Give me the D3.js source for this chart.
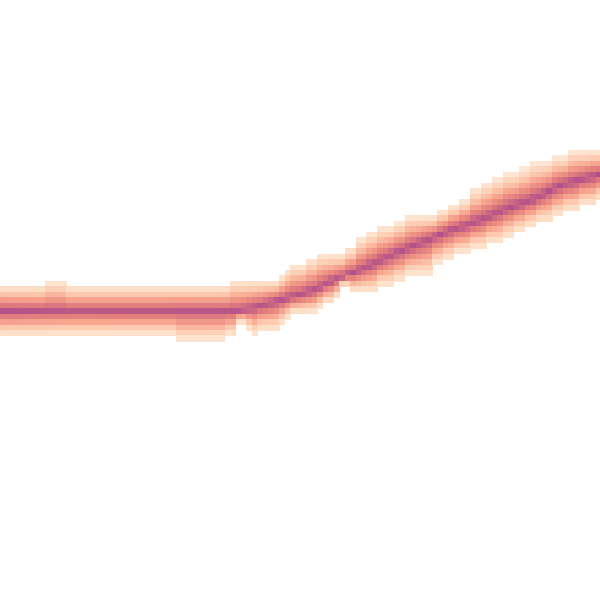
<!DOCTYPE html>
<html>
<head>
<meta charset="utf-8">
<script src="https://cdn.jsdelivr.net/npm/d3@7"></script>
<style>html,body{margin:0;padding:0;background:#fff;}svg{display:block;}</style>
</head>
<body>
<svg id="chart" width="600" height="600"></svg>
<script>
// ---- data (time 0..100, value 0..100) ----
// ridge (densest line) of the series
const ridgeT = [0, 40, 43.33, 46.67, 50, 52.5, 55.83, 60.83, 65.83, 69.17, 74.67, 80.33, 84.67, 89.5, 93, 100];
const ridgeV = [48.21, 48.21, 49, 50, 50.83, 51.67, 53.33, 55.33, 57.83, 59.17, 61.5, 63.33, 65.33, 67, 69, 71];
// upper envelope of the band (step starts)
const upperT = [0, 7.17, 10.83, 38.67, 46.17, 47.83, 48.67, 51.33, 53.33, 57, 59.5, 61.33, 63, 65.83, 67.5, 73, 74.67, 76.67, 78.33, 80.33, 82, 83.83, 86.67, 88.33, 92, 94.67];
const upperV = [52.38, 53.17, 52.38, 53.17, 54, 55, 55.83, 56.83, 57.67, 58.67, 60.33, 61.33, 62.17, 63, 64, 64.83, 65.83, 66.67, 68.5, 69.5, 70.33, 71.17, 72, 73, 73.83, 74.83];
// lower envelope of the band (step starts)
const lowerT = [0, 28.83, 37.83, 39.67, 41.33, 42.17, 43, 46.17, 47, 48.67, 53, 53.83, 55.83, 56.67, 58.67, 63, 65.83, 67.5, 72, 73.83, 75.5, 78.33, 81.17, 83.83, 85.5, 87.17, 89.17, 91.67, 93.67, 96.33, 99.17];
const lowerV = [44.12, 43.22, 44.12, 46.17, 45.17, 44.17, 45, 46, 47, 47.83, 48.67, 49.5, 50.5, 52.33, 51.33, 52.33, 53.17, 54.17, 56, 56.83, 57.83, 58.67, 59.5, 60.5, 61.33, 62.17, 63, 64, 64.83, 65.83, 66.67];
// density profile: normalised distance from ridge -> relative density
const profileDist = [0, 0.22, 0.44, 0.66, 0.88, 1];
const profileDens = [1, 0.65, 0.44, 0.26, 0.11, 0.05];
// peak density along time
const peakT = [0, 12, 37, 45];
const peakV = [1, 0.93, 0.95, 1];
// colour ramp
const densStops = [0.05, 0.1, 0.25, 0.4, 0.6, 0.8, 1];
const densColors = ["#feeadb", "#fde0c9", "#fcc8ad", "#f7a690", "#e4817d", "#cb6683", "#b1508b"];

// ---- layout ----
const W = 600, H = 600, nCells = 110;
const cw = W / nCells, ch = H / nCells;
const x = d3.scaleLinear().domain([0, 100]).range([0, W]);
const y = d3.scaleLinear().domain([0, 100]).range([H, 0]);
const ridge = d3.scaleLinear().domain(ridgeT).range(ridgeV).clamp(true);
const peak = d3.scaleLinear().domain(peakT).range(peakV).clamp(true);
const profile = d3.scaleLinear().domain(profileDist).range(profileDens).clamp(true);
const color = d3.scaleLinear().domain(densStops).range(densColors).interpolate(d3.interpolateRgb).clamp(true);
const step = (ts, vs, t) => vs[Math.max(0, d3.bisectRight(ts, t) - 1)];

const cells = [];
for (let k = -1; k <= nCells; k++) {
  const x0 = k * cw + 1, xc = x0 + cw / 2;
  const t = x.invert(xc);
  const cy = y(ridge(t)), top = y(step(upperT, upperV, t)), bot = y(step(lowerT, lowerV, t));
  for (let j = 0; j <= nCells; j++) {
    const yc = j * ch;
    if (yc <= top || yc >= bot) continue;
    const d = yc < cy ? (cy - yc) / (cy - top) : (yc - cy) / (bot - cy);
    cells.push({x0, y0: yc - ch / 2, v: profile(d) * peak(t)});
  }
}

d3.select("#chart").append("g")
  .attr("shape-rendering", "crispEdges")
  .selectAll("rect").data(cells).join("rect")
  .attr("x", d => d.x0).attr("y", d => d.y0)
  .attr("width", cw + 0.6).attr("height", ch + 0.6)
  .attr("fill", d => color(d.v));
</script>
</body>
</html>
